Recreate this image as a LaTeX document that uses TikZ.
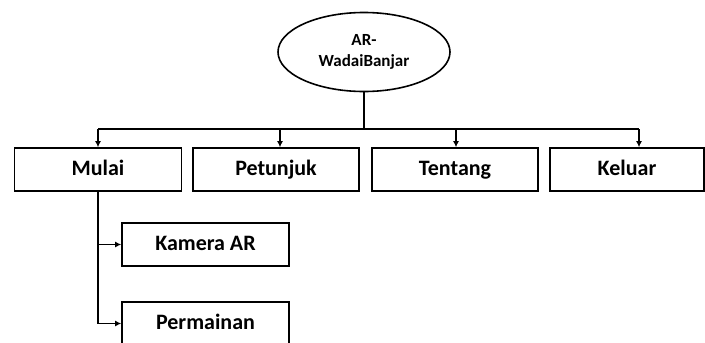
\documentclass[tikz,border=0pt]{standalone}
\usepackage{fontspec}
\setmainfont{Carlito}
\usetikzlibrary{shapes.geometric,arrows.meta}
\begin{document}
\begin{tikzpicture}[x=1pt,y=-1pt,
  every node/.style={font=\bfseries\fontsize{22}{24}\selectfont},
  box/.style={draw,line width=1.6pt,rectangle,minimum height=43pt,inner sep=0pt,text height=15pt,text depth=4pt},
  oval/.style={draw,line width=1.6pt,ellipse,minimum width=172pt,minimum height=79pt,inner sep=0pt,align=center,font=\bfseries\fontsize{17}{21}\selectfont},
  conn/.style={line width=1.6pt},
  arr/.style={line width=1.6pt,-{Latex[length=6pt,width=6pt]}}]
\useasboundingbox (0,0) rectangle (705,343);
\node[oval] (root) at (364,52) {AR-\\WadaiBanjar};
\node[box,minimum width=167pt] (mulai) at (98,169.5) {Mulai};
\node[box,minimum width=166pt] (petunjuk) at (276,169.5) {Petunjuk};
\node[box,minimum width=166pt] (tentang) at (455,169.5) {Tentang};
\node[box,minimum width=154pt] (keluar) at (627,169.5) {Keluar};
\node[box,minimum width=167pt] (kamera) at (205.5,244.5) {Kamera AR};
\node[box,minimum width=167pt] (perm) at (205.5,323.5) {Permainan};
\coordinate (bar) at (364,129);
\coordinate (b1) at (98,129);
\coordinate (b2) at (280,129);
\coordinate (b3) at (456,129);
\coordinate (b4) at (639,129);
\draw[conn] (root.south) -- (bar);
\draw[conn] (b1) -- (b4);
\draw[arr] (b1) -- (mulai.north);
\draw[arr] (b2) -- (b2 |- petunjuk.north);
\draw[arr] (b3) -- (b3 |- tentang.north);
\draw[arr] (b4) -- (b4 |- keluar.north);
\draw[conn] (mulai.south) -- (mulai.south |- perm.west);
\draw[arr] (mulai.south |- kamera.west) -- (kamera.west);
\draw[arr] (mulai.south |- perm.west) -- (perm.west);
\end{tikzpicture}
\end{document}
